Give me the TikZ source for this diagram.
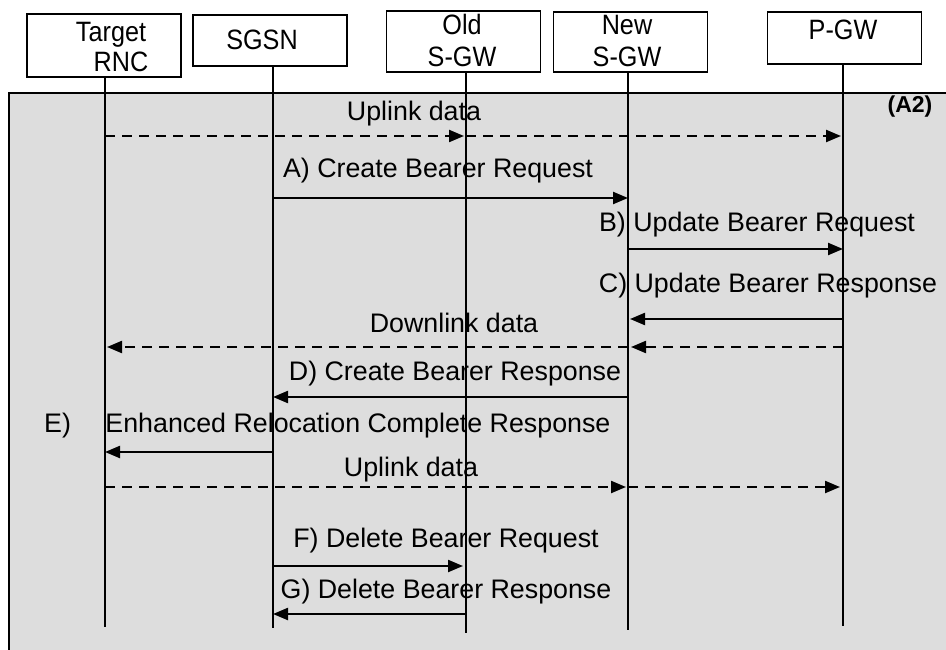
\documentclass[tikz,border=0pt]{standalone}
\usepackage{fontspec}
\setmainfont{Liberation Sans}
\newfontfamily\hdrfont{Liberation Sans}[FakeStretch=0.9]
\usetikzlibrary{arrows.meta}
\definecolor{panel}{HTML}{DDDDDD}
\tikzset{
  hdrbox/.style={draw, line width=1.5pt, fill=white, minimum width=154pt, inner sep=0pt},
  hdrtxt/.style={anchor=base, inner sep=0pt, font=\hdrfont\fontsize{28}{30}\selectfont},
  lbl/.style={anchor=base, inner sep=0pt, font=\fontsize{26.8}{30}\selectfont},
  life/.style={line width=1.4pt},
  msg/.style={line width=2.2pt, -{Triangle[length=15pt,width=12pt]}},
  dmsg/.style={msg, dash pattern=on 10pt off 7pt}
}
\begin{document}
\begin{tikzpicture}[x=1pt,y=-1pt]
\useasboundingbox (0,0) rectangle (946,650);
% panel
\fill[panel] (9,93) rectangle (960,660);
\draw[line width=1.5pt] (960,93) -- (9,93) -- (9,660);
% header boxes
\node[hdrbox, minimum height=63pt] (trnc) at (104,45.5) {};
\node[hdrbox, minimum height=51pt] (sgsn) at (270,40.5) {};
\node[hdrbox, minimum height=61pt] (osgw) at (463.5,41.5) {};
\node[hdrbox, minimum height=60pt] (nsgw) at (630.5,42) {};
\node[hdrbox, minimum height=52pt] (pgw) at (844.5,38) {};
% header texts
\node[hdrtxt] (t1a) at (111,42) {Target};
\node[hdrtxt] (t1b) at (121,72) {RNC};
\node[hdrtxt] (t2) at (262,50) {SGSN};
\node[hdrtxt] (t3a) at (462,35) {Old};
\node[hdrtxt] (t3b) at (462,67) {S-GW};
\node[hdrtxt] (t4a) at (627,35) {New};
\node[hdrtxt] (t4b) at (627,67) {S-GW};
\node[hdrtxt] (t5) at (843,40) {P-GW};
% lifeline tops and ends
\coordinate (l1) at (105,77);
\coordinate (l2) at (273,66);
\coordinate (l3) at (466,72);
\coordinate (l4) at (628,72);
\coordinate (l5) at (843,64);
\coordinate (e1) at (105,627);
\coordinate (e2) at (273,628);
\coordinate (e3) at (466,633);
\coordinate (e4) at (628,630);
\coordinate (e5) at (843,626);
\draw[life] (l1) -- (e1);
\draw[life] (l2) -- (e2);
\draw[life] (l3) -- (e3);
\draw[life] (l4) -- (e4);
\draw[life] (l5) -- (e5);
% (A2)
\node[anchor=base, inner sep=0pt, font=\fontsize{23}{26}\selectfont\bfseries] (a2) at (910,113) {(A2)};
% labels
\node[lbl] (m1) at (414,121) {Uplink data};
\node[lbl] (m2) at (438,178) {A) Create Bearer Request};
\node[lbl] (m3) at (757,232) {B) Update Bearer Request};
\node[lbl] (m4) at (768,292) {C) Update Bearer Response};
\node[lbl] (m5) at (454,332) {Downlink data};
\node[lbl] (m6) at (455,380) {D) Create Bearer Response};
\node[lbl, anchor=base west] (m7) at (44,432) {E)\hspace{27pt} Enhanced Relocation Complete Response};
\node[lbl] (m8) at (411,476) {Uplink data};
\node[lbl] (m9) at (446,547) {F) Delete Bearer Request};
\node[lbl] (m10) at (446,598) {G) Delete Bearer Response};
% messages
\draw[dmsg] (l1 |- 0,136) -- ([xshift=-2pt]l3 |- 0,136);
\draw[dmsg] (l3 |- 0,136) -- ([xshift=-2pt]l5 |- 0,136);
\draw[msg] (l2 |- 0,198) -- (l4 |- 0,198);
\draw[msg] (l4 |- 0,249) -- (l5 |- 0,249);
\draw[msg] (l5 |- 0,319) -- ([xshift=2pt]l4 |- 0,319);
\draw[dmsg] (l5 |- 0,347) -- ([xshift=3pt]l4 |- 0,347);
\draw[dmsg] (l4 |- 0,347) -- ([xshift=2pt]l1 |- 0,347);
\draw[msg] (l4 |- 0,397) -- (l2 |- 0,397);
\draw[msg] (l2 |- 0,452) -- (l1 |- 0,452);
\draw[dmsg] (l1 |- 0,487) -- ([xshift=-2pt]l4 |- 0,487);
\draw[dmsg] (l4 |- 0,487) -- ([xshift=-3pt]l5 |- 0,487);
\draw[msg] (l2 |- 0,566) -- ([xshift=-3pt]l3 |- 0,566);
\draw[msg] (l3 |- 0,614) -- (l2 |- 0,614);
\end{tikzpicture}
\end{document}
